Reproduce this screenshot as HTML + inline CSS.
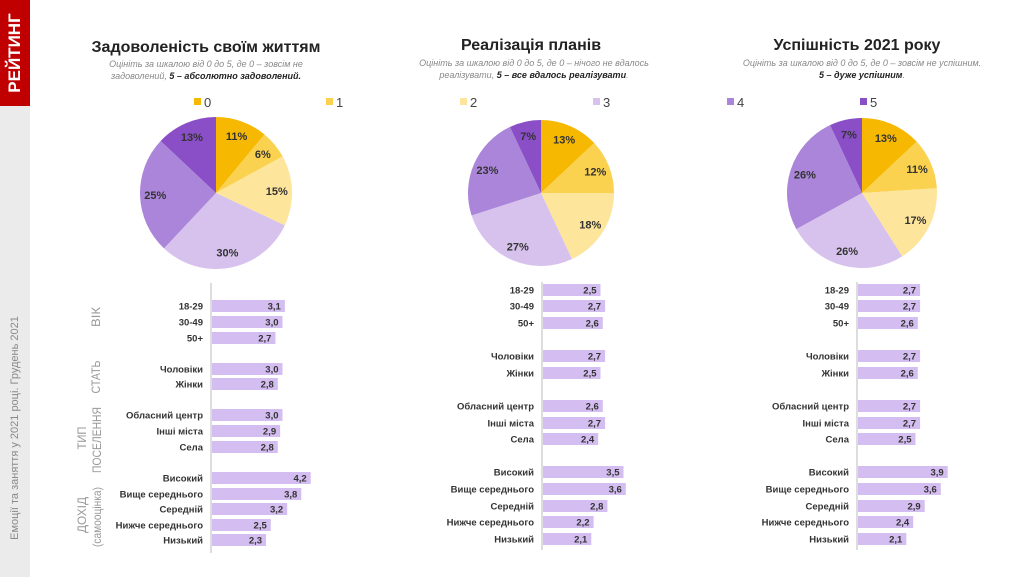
<!DOCTYPE html>
<html><head><meta charset="utf-8"><style>
body{margin:0;width:1024px;height:577px;background:#fff;position:relative;overflow:hidden;font-family:"Liberation Sans",sans-serif;}
.abs{position:absolute;}
</style></head><body>
<div class="abs" style="left:0;top:0;width:30px;height:577px;background:#ebebeb"></div>
<div class="abs" style="left:0;top:0;width:30px;height:106px;background:#c00000"></div>
<div class="abs" style="left:15px;top:53px;transform:translate(-50%,-50%) rotate(-90deg);color:#fff;font-weight:bold;font-size:17px;white-space:nowrap">РЕЙТИНГ</div>
<div class="abs" style="left:15px;top:428px;transform:translate(-50%,-50%) rotate(-90deg);color:#8a8a8a;font-size:11px;white-space:nowrap">Емоції та заняття у 2021 році. Грудень 2021</div>
<svg id="s" class="abs" style="left:0;top:0" width="1024" height="577" font-family="Liberation Sans, sans-serif"></svg>
<script>
const C=['#f6b800','#fbd24f','#fde59b','#d7c2ee','#ab85d9','#8a4fc6'];
let h='';
function pie(cx,cy,r,v){let a=0;v.forEach((p,i)=>{let a0=a/100*2*Math.PI,a1=(a+p)/100*2*Math.PI;
let x0=cx+r*Math.sin(a0),y0=cy-r*Math.cos(a0),x1=cx+r*Math.sin(a1),y1=cy-r*Math.cos(a1);
h+=`<path d="M${cx},${cy}L${x0},${y0}A${r},${r} 0 ${p>50?1:0} 1 ${x1},${y1}Z" fill="${C[i]}"/>`;
let m=(a0+a1)/2,lr=r*0.8;h+=`<text x="${cx+lr*Math.sin(m)}" y="${cy-lr*Math.cos(m)+4}" text-anchor="middle" font-size="11" font-weight="bold" fill="#333">${p}%</text>`;a+=p;});}
pie(216,193,76,[11,6,15,30,25,13]);pie(541,193,73,[13,12,18,27,23,7]);pie(862,193,75,[13,11,17,26,26,7]);
function t(x,y,s,o){h+=`<text x="${x}" y="${y}" ${o||''}>${s}</text>`;}
t(206,52,'Задоволеність своїм життям','text-anchor="middle" font-size="16" font-weight="bold" fill="#222"');
t(531,50,'Реалізація планів','text-anchor="middle" font-size="16" font-weight="bold" fill="#222"');
t(857,50,'Успішність 2021 року','text-anchor="middle" font-size="16" font-weight="bold" fill="#222"');
const g='text-anchor="middle" font-size="9" font-style="italic" fill="#888"';
t(206,67,'Оцініть за шкалою від 0 до 5, де 0 – зовсім не',g);
t(206,79,'задоволений, <tspan font-weight="bold" fill="#222">5 – абсолютно задоволений.</tspan>',g);
t(534,66,'Оцініть за шкалою від 0 до 5, де 0 – нічого не вдалось',g);
t(534,78,'реалізувати, <tspan font-weight="bold" fill="#222">5 – все вдалось реалізувати</tspan>.',g);
t(862,66,'Оцініть за шкалою від 0 до 5, де 0 – зовсім не успішним.',g);
t(862,78,'<tspan font-weight="bold" fill="#222">5 – дуже успішним</tspan>.',g);
[[194,0],[326,1],[460,2],[593,3],[727,4],[860,5]].forEach(([x,i])=>{h+=`<rect x="${x}" y="98" width="7" height="7" fill="${C[i]}"/>`;t(x+10,107,i,'font-size="13" fill="#444"');});
const L=['18-29','30-49','50+','Чоловіки','Жінки','Обласний центр','Інші міста','Села','Високий','Вище середнього','Середній','Нижче середнього','Низький'];
function bars(x0,ys,vals,u,top,bot){h+=`<line x1="${x0}" y1="${top}" x2="${x0}" y2="${bot}" stroke="#bbb"/>`;
ys.forEach((y,i)=>{let w=vals[i]*u;h+=`<rect x="${x0+1}" y="${y-6}" width="${w}" height="12" fill="#d4bdf0"/>`;
t(x0-8,y+3.5,L[i],'text-anchor="end" font-size="9.5" font-weight="bold" fill="#333"');
t(x0+w-3,y+3.5,vals[i].toFixed(1).replace('.',','),'text-anchor="end" font-size="9.5" font-weight="bold" fill="#333"');});}
bars(211,[306,322,338,369,384,415,431,447,478,494,509,525,540],[3.1,3.0,2.7,3.0,2.8,3.0,2.9,2.8,4.2,3.8,3.2,2.5,2.3],23.5,283,553);
const ys2=[290,306,323,356,373,406,423,439,472,489,506,522,539];
bars(542,ys2,[2.5,2.7,2.6,2.7,2.5,2.6,2.7,2.4,3.5,3.6,2.8,2.2,2.1],23,282,550);
bars(857,ys2,[2.7,2.7,2.6,2.7,2.6,2.7,2.7,2.5,3.9,3.6,2.9,2.4,2.1],23,282,550);
function rt(x,y,s,len){h+=`<text x="${x}" y="${y}" transform="rotate(-90 ${x} ${y})" text-anchor="middle" font-size="12" fill="#999" textLength="${len}" lengthAdjust="spacingAndGlyphs">${s}</text>`;}
rt(100,317,'ВІК',20);rt(100,377,'СТАТЬ',33);rt(86,438,'ТИП',23);rt(101,440,'ПОСЕЛЕННЯ',66);rt(86,515,'ДОХІД',36);rt(101,517,'(самооцінка)',60);
document.getElementById('s').innerHTML=h;
</script>
</body></html>
